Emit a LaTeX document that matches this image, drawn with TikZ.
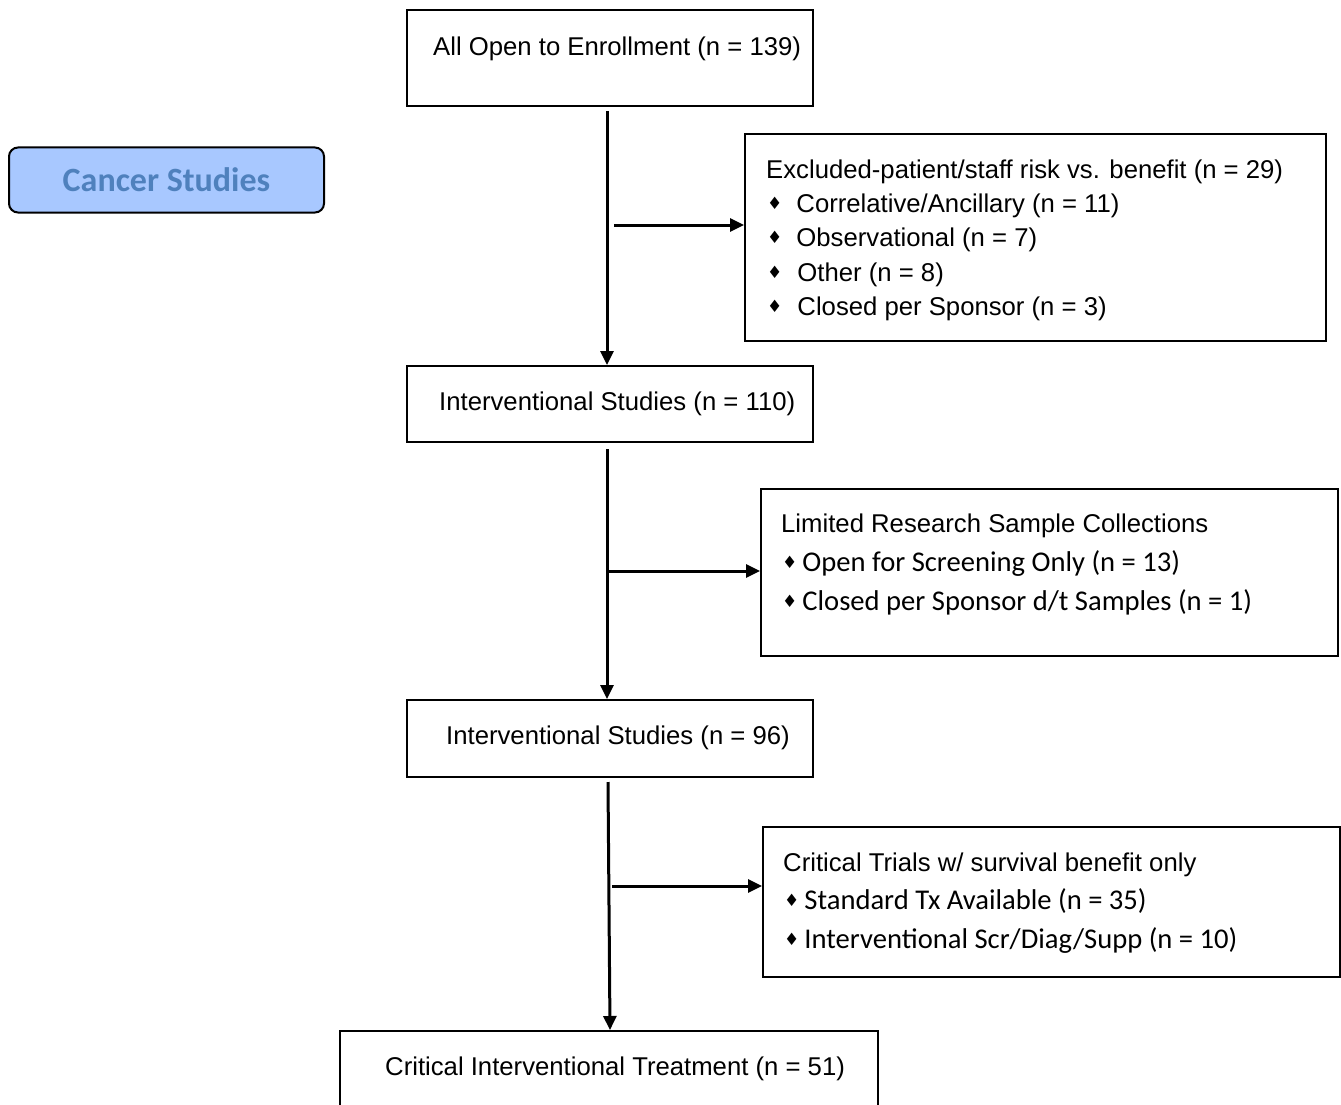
\documentclass[tikz,border=0pt]{standalone}
\usepackage{fontspec}
\setmainfont{Liberation Sans}
\newfontfamily\calfont{Carlito}
\newfontfamily\symfont{DejaVu Sans}
\usepackage{tikz}
\usetikzlibrary{arrows.meta}

\definecolor{cancerfill}{RGB}{168,200,255}
\definecolor{cancertext}{RGB}{79,129,189}
\newcommand{\dmd}{{\symfont\fontsize{17}{17}\selectfont\raisebox{3pt}{♦}}}
\newcommand{\arial}{\fontsize{25.7}{30}\selectfont}
\newcommand{\calsize}{\calfont\fontsize{28.6}{32}\selectfont}

\begin{document}
\begin{tikzpicture}[x=1pt,y=-1pt]
    \tikzstyle{box}=[draw=black,line width=2pt,inner sep=0pt,fill=white]
    \tikzstyle{txt}=[anchor=west,inner sep=0pt,font=\arial]
    \tikzstyle{arr}=[line width=3pt,-{Triangle[length=14pt,width=13pt]}]
    \useasboundingbox (0,0) rectangle (1341,1105);
    % main column
    \node (top)[box,minimum width=406pt,minimum height=96pt] at (610,58) {};
    \node (int1)[box,minimum width=406pt,minimum height=76pt] at (610,404) {};
    \node (int2)[box,minimum width=406pt,minimum height=77pt] at (610,738.5) {};
    \node (treat)[box,minimum width=538pt,minimum height=100pt] at (609,1081) {};
    \node (toptxt)[txt] at (433,48.5) {All Open to Enrollment (n = 139)};
    \node (int1txt)[txt] at (439,403.5) {Interventional Studies (n = 110)};
    \node (int2txt)[txt] at (446,737.5) {Interventional Studies (n = 96)};
    \node (treattxt)[txt] at (385,1068.5) {Critical Interventional Treatment (n = 51)};
    % side boxes
    \node (excl)[box,minimum width=581pt,minimum height=207pt] at (1035.5,237.5) {};
    \node (lrs)[box,minimum width=577pt,minimum height=167pt] at (1049.5,572.5) {};
    \node (crit)[box,minimum width=577pt,minimum height=150pt] at (1051.5,902) {};
    \node (excl0)[txt] at (766,171.5) {Excluded-patient/staff risk vs. benefit (n = 29)};
    \node (excl1)[txt] at (767,205.5) {\dmd\hspace{14pt}Correlative/Ancillary (n = 11)};
    \node (excl2)[txt] at (767,239.5) {\dmd\hspace{14pt}Observational (n = 7)};
    \node (excl3)[txt] at (767,274.5) {\dmd\hspace{15pt}Other (n = 8)};
    \node (excl4)[txt] at (767,308.5) {\dmd\hspace{15pt}Closed per Sponsor (n = 3)};
    \node (lrs0)[txt] at (781,525.5) {Limited Research Sample Collections};
    \node (lrs1)[txt,font=\calsize] at (782,563) {\dmd\hspace{5pt}Open for Screening Only (n = 13)};
    \node (lrs2)[txt,font=\calsize] at (782,602) {\dmd\hspace{5pt}Closed per Sponsor d/t Samples (n = 1)};
    \node (crit0)[txt] at (783,864.5) {Critical Trials w/ survival benefit only};
    \node (crit1)[txt,font=\calsize] at (784,901) {\dmd\hspace{5pt}Standard Tx Available (n = 35)};
    \node (crit2)[txt,font=\calsize] at (784,940) {\dmd\hspace{5pt}Interventional Scr/Diag/Supp (n = 10)};
    % label box
    \node (cancer)[draw=black,line width=2pt,rounded corners=9pt,fill=cancerfill,minimum width=315pt,minimum height=65pt,
        font=\calfont\bfseries\fontsize{34}{38}\selectfont,text=cancertext] at (166.5,180) {Cancer Studies};
    % connectors
    \coordinate (s1) at (614,225);
    \coordinate (s2) at (607,571);
    \coordinate (s3) at (612,886);
    \draw[arr] ([xshift=-3pt,yshift=-4pt]top.south) -- ([xshift=-3pt]int1.north);
    \draw[arr] ([xshift=-3pt,yshift=-6pt]int1.south) -- ([xshift=-3pt]int2.north);
    \draw[arr] ([xshift=-2pt,yshift=-4pt]int2.south) -- ([xshift=1pt]treat.north);
    \draw[arr] (s1) -- (s1 -| excl.west);
    \draw[arr] (s2) -- (s2 -| lrs.west);
    \draw[arr] (s3) -- (s3 -| crit.west);
\end{tikzpicture}
\end{document}
